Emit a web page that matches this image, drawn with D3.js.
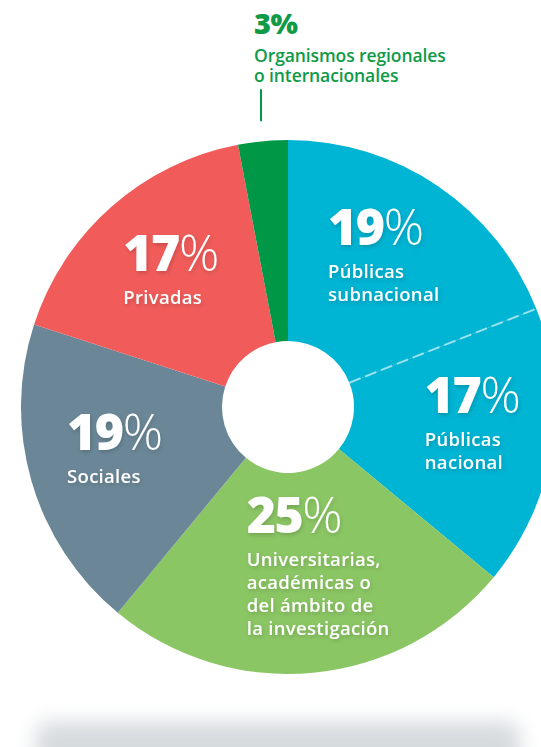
<!DOCTYPE html>
<html>
<head>
<meta charset="utf-8">
<script src="https://cdn.jsdelivr.net/npm/d3@7"></script>
<style>
  body { margin: 0; background: #fff; }
  svg { display: block; font-family: "Open Sans", "Noto Sans", sans-serif; }
</style>
</head>
<body>
<svg width="541" height="747"></svg>
<script>
const categories = ["Públicas subnacional", "Públicas nacional", "Universitarias", "Sociales", "Privadas", "Organismos"];
const values = [19, 17, 25, 19, 17, 3];
const labelLines = [
  ["Públicas", "subnacional"],
  ["Públicas", "nacional"],
  ["Universitarias,", "académicas o", "del ámbito de", "la investigación"],
  ["Sociales"],
  ["Privadas"],
  ["Organismos regionales", "o internacionales"]
];
const colors = ["#00b4d3", "#00b4d3", "#8bc664", "#6b8797", "#f15c5a", "#009846"];

const svg = d3.select("svg");
const cx = 288, cy = 407;
const outerR = 267, innerR = 66;

// where each label block sits relative to its slice centroid (layout only)
const labelShift = [[-60, -15], [-39, -22], [-58, -51], [-50, -7], [-47, -2]];

const defs = svg.append("defs");
defs.append("filter").attr("id", "blur").attr("x", "-20%").attr("y", "-150%").attr("width", "140%").attr("height", "400%")
  .append("feGaussianBlur").attr("stdDeviation", 10);
const ts = defs.append("filter").attr("id", "tshadow").attr("x", "-20%").attr("y", "-20%").attr("width", "140%").attr("height", "140%");
ts.append("feDropShadow").attr("dx", 1).attr("dy", 2).attr("stdDeviation", 2).attr("flood-color", "#000").attr("flood-opacity", 0.18);

// floor shadow
svg.append("rect")
  .attr("x", 36).attr("y", 722).attr("width", 484).attr("height", 50).attr("rx", 12)
  .attr("fill", "#d6dade").attr("filter", "url(#blur)");

const g = svg.append("g").attr("transform", `translate(${cx},${cy})`);

const pie = d3.pie().sort(null).value(d => d)(values);
const arc = d3.arc().innerRadius(innerR).outerRadius(outerR);

g.selectAll("path.slice")
  .data(pie)
  .enter().append("path")
  .attr("class", "slice")
  .attr("d", arc)
  .attr("fill", (d, i) => colors[i]);

// dashed separator between the two "Públicas" slices
const sepA = pie[0].endAngle;
g.append("line")
  .attr("x1", Math.sin(sepA) * innerR).attr("y1", -Math.cos(sepA) * innerR)
  .attr("x2", Math.sin(sepA) * outerR).attr("y2", -Math.cos(sepA) * outerR)
  .attr("stroke", "#ffffff").attr("stroke-opacity", 0.55)
  .attr("stroke-width", 2).attr("stroke-dasharray", "12,5");

// inside labels
const labelArc = d3.arc().innerRadius(178).outerRadius(178);
pie.slice(0, 5).forEach((d, i) => {
  const [lx, ly] = labelArc.centroid(d);
  const lg = g.append("g").attr("filter", "url(#tshadow)")
    .attr("transform", `translate(${lx + labelShift[i][0]},${ly + labelShift[i][1]})`);
  const t = lg.append("text").attr("fill", "#fff");
  t.append("tspan").attr("x", 0).attr("y", 0)
    .attr("font-size", 50).attr("font-weight", 800).attr("letter-spacing", -1.5)
    .text(values[i]);
  t.append("tspan").attr("font-size", 50).attr("font-weight", 300).text("%");
  const lt = lg.append("text").attr("fill", "#fff").attr("font-size", 18.5)
    .attr("font-weight", 600).attr("letter-spacing", 0.3);
  labelLines[i].forEach((line, j) => {
    lt.append("tspan").attr("x", 0).attr("y", 33 + j * 23).text(line);
  });
});

// outside label for the small slice
const last = pie[5];
const midA = (last.startAngle + last.endAngle) / 2;
const lineX = Math.sin(midA) * (outerR + 20);
g.append("line")
  .attr("x1", lineX).attr("x2", lineX)
  .attr("y1", -Math.cos(midA) * (outerR + 20)).attr("y2", -Math.cos(midA) * (outerR + 20) - 32)
  .attr("stroke", colors[5]).attr("stroke-width", 2);

const og = svg.append("g").attr("fill", "#0f9a48");
const ot = og.append("text").attr("x", 254).attr("y", 34);
ot.append("tspan").attr("font-size", 29).attr("font-weight", 800).attr("letter-spacing", -0.5).text(values[5]);
ot.append("tspan").attr("font-size", 29).attr("font-weight", 800).text("%");
const olt = og.append("text").attr("font-size", 17.5).attr("font-weight", 600).attr("letter-spacing", -0.1);
labelLines[5].forEach((line, j) => {
  olt.append("tspan").attr("x", 254).attr("y", 62 + j * 20).text(line);
});
</script>
</body>
</html>
